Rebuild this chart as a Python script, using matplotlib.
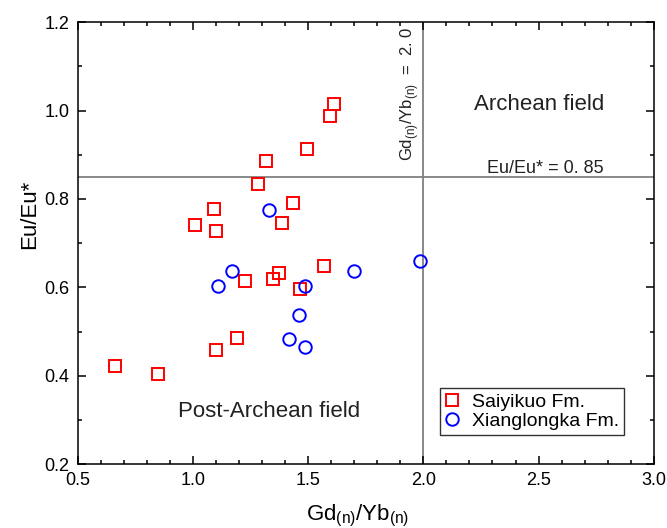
import matplotlib
matplotlib.use("Agg")
import matplotlib.pyplot as plt
from matplotlib.ticker import MultipleLocator

plt.rcParams["font.family"] = ["Liberation Sans", "DejaVu Sans"]
plt.rcParams["mathtext.fontset"] = "custom"
plt.rcParams["mathtext.rm"] = "Liberation Sans"

# Saiyikuo Fm. (red squares)
saiyikuo_gd_yb = [1.61, 1.596, 1.493, 1.315, 1.283, 1.432, 1.089, 1.006, 1.100, 1.388,
                  1.569, 1.371, 1.348, 1.225, 1.463, 1.190, 1.099, 0.846, 0.660]
saiyikuo_eu = [1.014, 0.987, 0.914, 0.887, 0.833, 0.790, 0.778, 0.740, 0.727, 0.745,
               0.649, 0.632, 0.619, 0.615, 0.596, 0.486, 0.458, 0.405, 0.423]

# Xianglongka Fm. (blue circles)
xianglongka_gd_yb = [1.329, 1.170, 1.109, 1.484, 1.697, 1.987, 1.458, 1.417, 1.485]
xianglongka_eu = [0.774, 0.637, 0.602, 0.604, 0.638, 0.659, 0.537, 0.484, 0.465]

gd_yb_limit = 2.0
eu_limit = 0.85

fig = plt.figure(figsize=(6.67, 5.28), dpi=100)
ax = fig.add_axes([0.117, 0.121, 0.863, 0.837])

ax.axhline(eu_limit, color="#808080", lw=1.3, zorder=1)
ax.axvline(gd_yb_limit, color="#808080", lw=1.3, zorder=1)

ax.plot(saiyikuo_gd_yb, saiyikuo_eu, ls="none", marker="s", ms=8, mfc="none",
        mec="#ff0000", mew=1.4, label="Saiyikuo Fm.", zorder=3)
ax.plot(xianglongka_gd_yb, xianglongka_eu, ls="none", marker="o", ms=9, mfc="none",
        mec="#0000ff", mew=1.4, label="Xianglongka Fm.", zorder=3)

ax.set_xlim(0.5, 3.0)
ax.set_ylim(0.2, 1.2)
ax.xaxis.set_major_locator(MultipleLocator(0.5))
ax.xaxis.set_minor_locator(MultipleLocator(0.1))
ax.yaxis.set_major_locator(MultipleLocator(0.2))
ax.yaxis.set_minor_locator(MultipleLocator(0.1))
ax.tick_params(which="both", direction="in", top=True, right=True, width=1.1)
ax.tick_params(which="major", length=6, labelsize=13, pad=6)
ax.tick_params(which="minor", length=3)
for s in ax.spines.values():
    s.set_linewidth(1.1)

ax.set_xlabel(r"Gd$_{\rm (n)}$/Yb$_{\rm (n)}$", fontsize=16)
ax.xaxis.set_label_coords(0.485, -0.088)
ax.set_ylabel("Eu/Eu*", fontsize=16)
ax.yaxis.set_label_coords(-0.066, 0.566)

ax.text(2.501, 1.014, "Archean field", fontsize=16, ha="center", va="center", color="#222222")
ax.text(1.33, 0.32, "Post-Archean field", fontsize=16, ha="center", va="center", color="#222222")
ax.text(2.531, 0.870, "Eu/Eu* = 0. 85", fontsize=13, ha="center", va="center", color="#222222")
ax.text(1.988, 1.19, r"Gd$_{\rm (n)}$/Yb$_{\rm (n)}$  =  2. 0", fontsize=12, rotation=90,
        ha="right", va="top", color="#222222")

leg = ax.legend(loc="lower right", bbox_to_anchor=(0.948, 0.066), fontsize=14,
                frameon=True, fancybox=False, edgecolor="black", handlelength=0.8,
                handletextpad=0.6, borderpad=0.25, labelspacing=0.1, borderaxespad=0)
leg.get_frame().set_linewidth(1.0)

fig.savefig("out.png", dpi=100)
